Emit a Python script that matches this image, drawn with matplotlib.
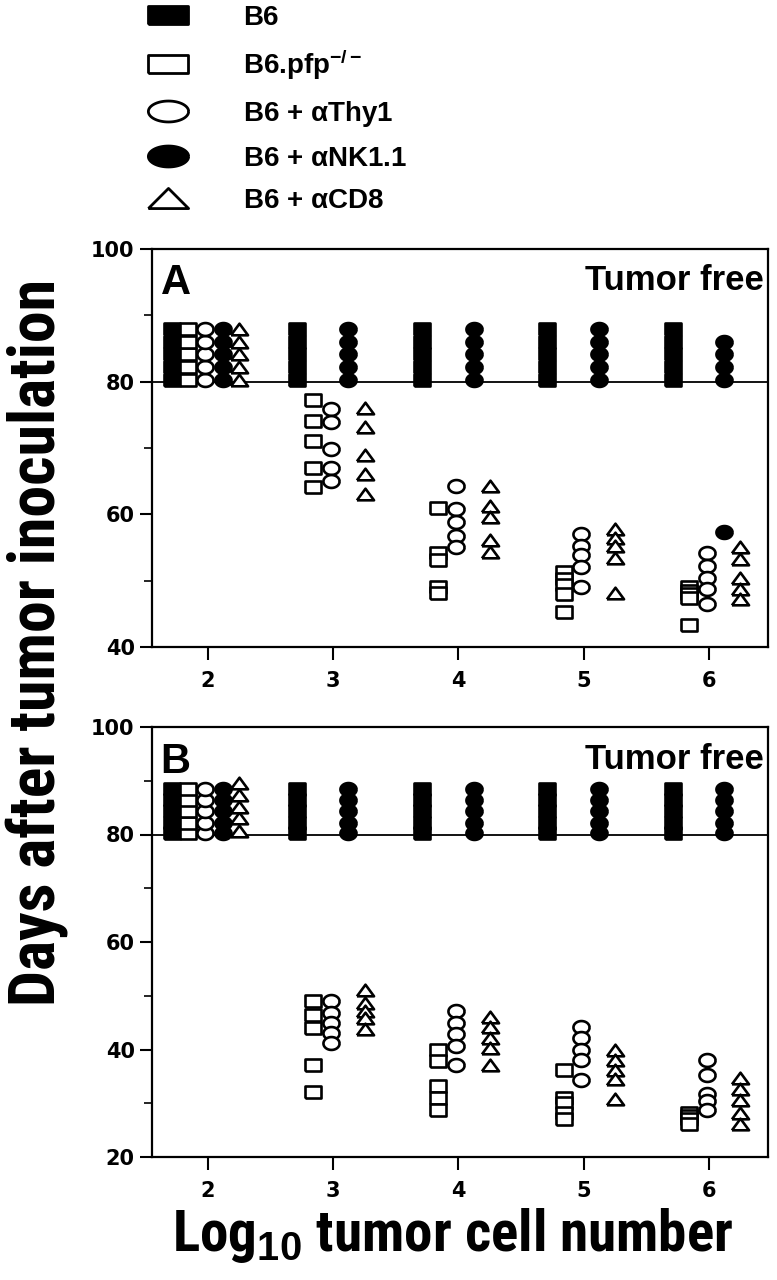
import numpy as np
import matplotlib
matplotlib.use("Agg")
import matplotlib.pyplot as plt
from matplotlib import font_manager
from matplotlib.font_manager import FontProperties
from matplotlib.lines import Line2D

# -------------------- data --------------------
doses = [2, 3, 4, 5, 6]

# tumor free mice are stacked above the 80 day line
tf_a = [80.3, 82.2, 84.1, 86.0, 87.9]
tf_b = [80.2, 82.2, 84.3, 86.4, 88.5]

# panel A
a_b6 = [tf_a, tf_a, tf_a, tf_a, tf_a]
a_pfp = [tf_a,
         [77.3, 74.1, 71.1, 67.0, 64.1],
         [61.0, 54.1, 53.1, 49.1, 48.2],
         [51.3, 50.3, 49.3, 48.0, 45.3],
         [49.0, 48.5, 48.0, 47.4, 43.3]]
a_thy1 = [tf_a,
          [75.9, 73.9, 69.9, 67.0, 65.1],
          [64.3, 60.8, 58.8, 56.8, 55.1],
          [57.0, 55.2, 53.8, 52.0, 49.0],
          [54.1, 52.2, 50.4, 48.7, 46.5]]
a_nk = [tf_a, tf_a, tf_a, tf_a, [80.3, 82.2, 84.1, 86.0, 57.3]]
a_cd8 = [tf_a,
         [76.0, 73.2, 69.0, 66.1, 63.1],
         [64.3, 61.3, 59.6, 56.1, 54.3],
         [57.8, 56.5, 55.2, 53.4, 48.2],
         [55.1, 53.3, 50.4, 48.8, 47.3]]

# panel B
b_b6 = [tf_b, tf_b, tf_b, tf_b, tf_b]
b_pfp = [tf_b,
         [49.0, 46.5, 44.0, 37.1, 32.1],
         [40.0, 37.8, 33.2, 31.0, 28.8],
         [36.1, 31.0, 30.1, 28.2, 27.0],
         [28.1, 27.6, 27.1, 26.1]]
b_thy1 = [tf_b,
          [49.0, 46.8, 45.0, 43.1, 41.2],
          [47.1, 45.0, 42.8, 40.6, 37.2],
          [44.2, 42.2, 40.0, 38.0, 34.4],
          [38.0, 35.2, 31.8, 30.4, 28.8]]
b_nk = [tf_b, tf_b, tf_b, tf_b, tf_b]
b_cd8 = [[80.7, 83.0, 85.2, 87.4, 89.5],
         [51.0, 48.7, 47.1, 45.9, 43.9],
         [46.0, 44.1, 42.2, 40.2, 37.1],
         [39.9, 38.0, 36.2, 34.5, 30.7],
         [34.7, 32.7, 30.6, 28.1, 26.2]]

labels = ["B6", "B6.pfp$^{-/-}$", r"B6 + $\alpha$Thy1", r"B6 + $\alpha$NK1.1", r"B6 + $\alpha$CD8"]

# -------------------- fonts --------------------
plt.rcParams["font.family"] = ["Liberation Sans", "DejaVu Sans"]
plt.rcParams["mathtext.fontset"] = "custom"
plt.rcParams["mathtext.rm"] = "Liberation Sans:bold"
plt.rcParams["mathtext.it"] = "Liberation Sans:bold"
plt.rcParams["mathtext.bf"] = "Liberation Sans:bold"

# look for a condensed bold face for the axis titles
cond_file = None
for pref in ["LiberationSansNarrow-Bold", "RobotoCondensed-Bold", "DejaVuSansCondensed-Bold",
             "OpenSans_Condensed-Bold", "OpenSansCondensed-Bold", "NotoSans-CondensedBold"]:
    for f in font_manager.findSystemFonts():
        if pref.lower() in f.lower().replace(" ", ""):
            cond_file = f
            break
    if cond_file:
        break
if cond_file:
    yfont = FontProperties(fname=cond_file, size=46)
    xfont = FontProperties(fname=cond_file, size=41)
else:
    yfont = FontProperties(family="Liberation Sans", weight="bold", size=40)
    xfont = FontProperties(family="Liberation Sans", weight="bold", size=33)

# -------------------- marker shapes --------------------
def rect(h):
    return [(-1, -h), (1, -h), (1, h), (-1, h), (-1, -h)]

def ellipse(h):
    t = np.linspace(0, 2 * np.pi, 61)
    return list(zip(np.cos(t), h * np.sin(t)))

def tri(h):
    return [(-1, -h), (1, -h), (0, h), (-1, -h)]

offsets = [-0.29, -0.16, -0.02, 0.12, 0.25]
styles = [
    dict(marker=rect(0.72), ms=11.8, mfc="black"),
    dict(marker=rect(0.72), ms=11.8, mfc="white"),
    dict(marker=ellipse(0.8), ms=11.6, mfc="white"),
    dict(marker=ellipse(0.8), ms=11.6, mfc="black"),
    dict(marker=tri(0.68), ms=12.3, mfc="white"),
]

fig = plt.figure(figsize=(7.77, 12.8), dpi=100)
axA = fig.add_axes([152 / 777, 1 - 647 / 1280, 616 / 777, 398 / 1280])
axB = fig.add_axes([152 / 777, 1 - 1157 / 1280, 616 / 777, 430 / 1280])


def draw_panel(ax, series, ylo, letter):
    ax.axhline(80, color="black", lw=1.3, zorder=1)
    for k, groups in enumerate(series):
        for x, vals in zip(doses, groups):
            ax.plot(np.full(len(vals), x + offsets[k]), vals, ls="none",
                    mec="black", mew=1.9, zorder=2 + k, **styles[k])
    ax.set_xlim(1.553, 6.471)
    ax.set_ylim(ylo, 100)
    ax.set_xticks(doses)
    ax.set_yticks(np.arange(ylo, 101, 20))
    ax.set_yticks(np.arange(ylo + 10, 100, 20), minor=True)
    ax.tick_params(axis="both", direction="out", width=1.5, length=9, labelsize=15)
    ax.tick_params(axis="y", which="minor", direction="out", width=1.2, length=6)
    ax.tick_params(axis="x", pad=8)
    for lab in ax.get_xticklabels() + ax.get_yticklabels():
        lab.set_fontweight("bold")
        lab.set_family("DejaVu Sans")
    for sp in ax.spines.values():
        sp.set_linewidth(1.6)
    ax.text(0.014, 0.965, letter, transform=ax.transAxes, fontsize=30,
            fontweight="bold", ha="left", va="top")
    ax.text(0.994, 0.962, "Tumor free", transform=ax.transAxes, fontsize=25,
            fontweight="bold", ha="right", va="top")


draw_panel(axA, [a_b6, a_pfp, a_thy1, a_nk, a_cd8], 40, "A")
draw_panel(axB, [b_b6, b_pfp, b_thy1, b_nk, b_cd8], 20, "B")

# -------------------- legend --------------------
leg_styles = [
    dict(marker=rect(0.45), mfc="black"),
    dict(marker=rect(0.45), mfc="white"),
    dict(marker=ellipse(0.52), mfc="white"),
    dict(marker=ellipse(0.52), mfc="black"),
    dict(marker=tri(0.5), mfc="white"),
]
handles = [Line2D([], [], ls="none", ms=29, mec="black", mew=2.0, **s) for s in leg_styles]
fig.legend(handles, labels, loc="upper left", bbox_to_anchor=(122 / 777, 1.008),
           frameon=False, prop=dict(size=20, weight="bold"), labelspacing=0.6,
           handlelength=2.2, handletextpad=1.6, borderpad=0.05)

fig.text(37 / 777, 638 / 1280, "Days after tumor inoculation", rotation=90,
         ha="center", va="center", fontproperties=yfont)
fig.text(453 / 777, 1 - 1251 / 1280, "Log$_{10}$ tumor cell number", ha="center",
         va="baseline", fontproperties=xfont)

fig.savefig("out.png", dpi=100)
